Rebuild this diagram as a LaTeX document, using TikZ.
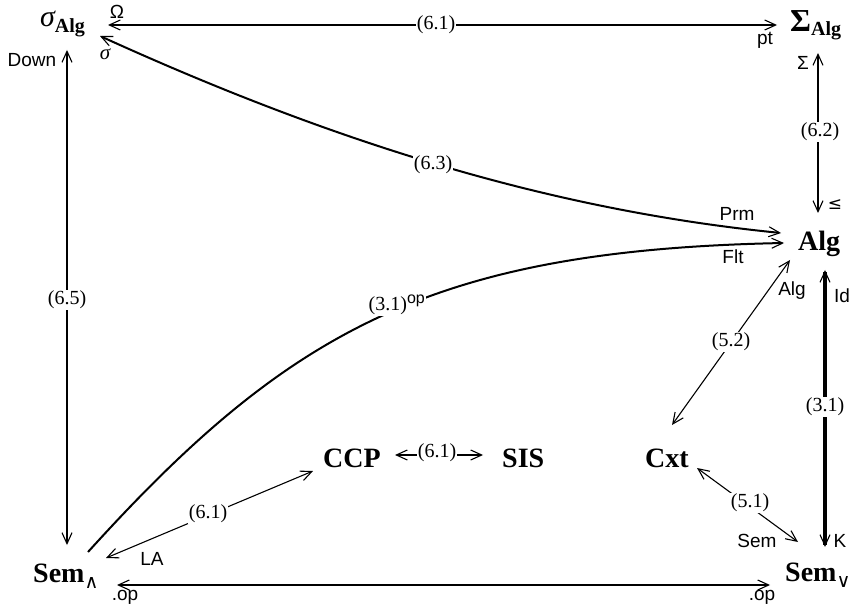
\documentclass[tikz,border=0pt]{standalone}
\usepackage{fontspec}
\setmainfont{Liberation Serif}
\setsansfont{Liberation Sans}
\newfontfamily\djv{DejaVu Sans}
\usetikzlibrary{arrows.meta,calc}
\begin{document}
\begin{tikzpicture}[x=1pt,y=-1pt,
  >={Straight Barb[length=11pt,width=10pt,line width=1.1pt]},
  obj/.style={font=\fontsize{28}{30}\selectfont\bfseries, inner sep=0pt, anchor=base west},
  lab/.style={font=\fontsize{19}{21}\selectfont\sffamily, inner sep=0pt},
  num/.style={font=\fontsize{20}{22}\selectfont, fill=white, inner sep=1pt},
  med/.style={line width=2pt},
  thin/.style={line width=1.1pt},
  heavy/.style={line width=4pt}]
\useasboundingbox (0,0) rectangle (851,609);
% objects
\node[obj] (sA) at (40,27) {\mdseries\itshape\fontsize{30}{30}\selectfont σ\raisebox{-6pt}{\upshape\bfseries\fontsize{20}{20}\selectfont Alg}};
\node[obj] (SA) at (790,32) {\fontsize{32}{32}\selectfont Σ\raisebox{-4pt}{\fontsize{20}{20}\selectfont Alg}};
\node[obj] (Alg) at (798,251) {Alg};
\node[obj] (SemW) at (33,582) {Sem\raisebox{-6pt}{\djv\mdseries\fontsize{19}{19}\selectfont ∧}};
\node[obj] (SemV) at (785,581) {Sem\raisebox{-6pt}{\djv\mdseries\fontsize{19}{19}\selectfont ∨}};
\node[obj] (CCP) at (323,467) {CCP};
\node[obj] (SIS) at (502,467) {SIS};
\node[obj] (Cxt) at (645,467) {Cxt};
% connectors
\draw[med,<->] ($(sA.base west)+(68,-2)$) -- ($(SA.base west)+(-13,-7)$);
\draw[med,<->] ($(sA.base west)+(27,23)$) -- ($(SemW.base west)+(34,-37)$);
\draw[med,<->] ($(SA.base west)+(28,21)$) -- ($(Alg.base west)+(20,-38)$);
\draw[heavy,<->] ($(Alg.base west)+(27,19)$) -- ($(SemV.base west)+(40,-34)$);
\draw[med,<->] ($(SemW.base west)+(84,3)$) -- ($(SemV.base west)+(-15,4)$);
\draw[med,<->] ($(sA.base west)+(60,9)$) .. controls (333,142) and (550,210) .. ($(Alg.base west)+(-17,-18)$);
\draw[med,->] ($(SemW.base west)+(55,-30)$) .. controls (289,330) and (433,250) .. ($(Alg.base west)+(-14,-8)$);
\draw[thin,<->] ($(SemW.base west)+(73,-24)$) -- ($(CCP.base west)+(-10,4)$);
\draw[med,<->] ($(CCP.base west)+(72,-12)$) -- ($(SIS.base west)+(-19,-12)$);
\draw[thin,<->] ($(Alg.base west)+(-8,9)$) -- ($(Cxt.base west)+(27,-42)$);
\draw[thin,<->] ($(Cxt.base west)+(52,1)$) -- ($(SemV.base west)+(13,-39)$);
% edge labels
\node[num] (n1) at (436,25) {(6.1)};
\node[num] (n2) at (820,132) {(6.2)};
\node[num] (n3) at (433,165) {(6.3)};
\node[num] (n4) at (67,300) {(6.5)};
\node[num] (n5) at (825,407) {(3.1)};
\node[num] (n6) at (397,305) {(3.1)\textsuperscript{\sffamily\fontsize{16}{16}\selectfont op}};
\node[num] (n7) at (208,514) {(6.1)};
\node[num] (n8) at (437,453) {(6.1)};
\node[num] (n9) at (731,342) {(5.2)};
\node[num] (n10) at (750,503) {(5.1)};
% end labels
\node[lab] (l1) at (117,12) {Ω};
\node[lab,font=\fontsize{21}{21}\selectfont\itshape] (l2) at (105,54) {σ};
\node[lab] (l3) at (765,40) {pt};
\node[lab] (l4) at (32,60) {Down};
\node[lab] (l5) at (803,63) {Σ};
\node[lab,font=\fontsize{17}{17}\selectfont\djv] (l6) at (835,205) {≤};
\node[lab] (l7) at (737,214) {Prm};
\node[lab] (l8) at (733,257) {Flt};
\node[lab] (l9) at (792,291) {Alg};
\node[lab] (l10) at (842,296) {Id};
\node[lab] (l11) at (840,541) {K};
\node[lab] (l12) at (757,541) {Sem};
\node[lab] (l13) at (152,559) {LA};
\node[lab] (l14) at (125,597) {.op};
\node[lab] (l15) at (762,597) {.op};
\end{tikzpicture}
\end{document}
